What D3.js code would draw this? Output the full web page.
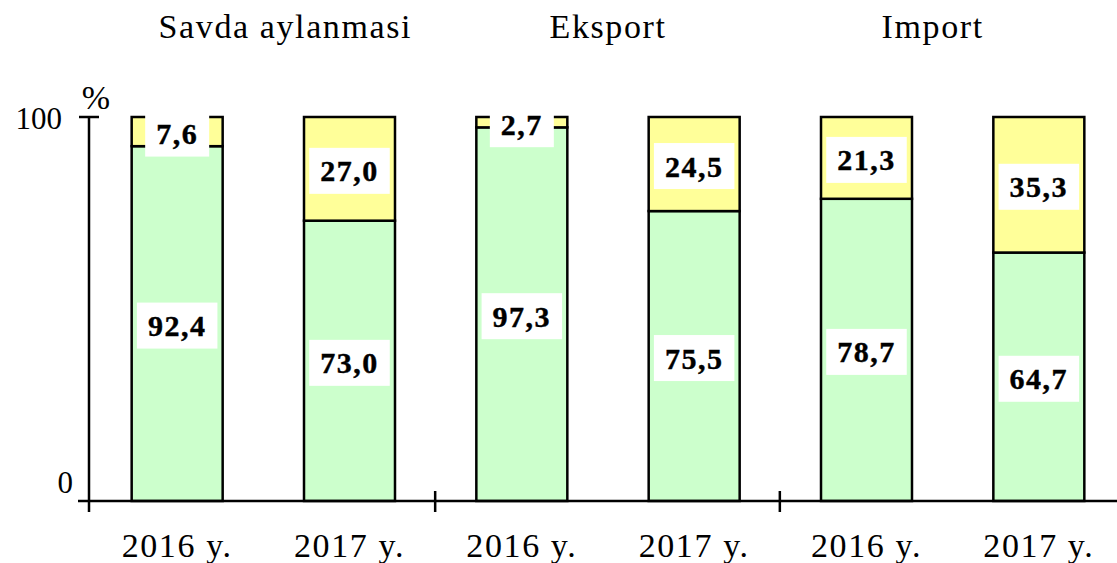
<!DOCTYPE html>
<html lang="uz">
<head>
    <meta charset="UTF-8">
    <title>Savda aylanmasi, eksport va import tarkibi</title>
    <script src="https://d3js.org/d3.v7.min.js"></script>
    <style>
        body {
            margin: 0;
            background: #fff;
        }
        svg text {
            font-family: "Liberation Serif", "Times New Roman", serif;
            fill: #000;
        }
        .title, .cat {
            font-size: 34px;
            letter-spacing: 1.6px;
        }
        .val {
            font-size: 30px;
            font-weight: bold;
            letter-spacing: 1.5px;
            stroke: #000;
            stroke-width: 0.4px;
        }
        .ytick {
            font-size: 31px;
        }
    </style>
</head>
<body>
    <svg width="1117" height="563"></svg>
    <script>
        // data
        var groups = ["Savda aylanmasi", "Eksport", "Import"];
        var years = ["2016 y.", "2017 y."];
        // green part (lower) and yellow part (upper), per group and year
        var lowerVals = [92.4, 73.0, 97.3, 75.5, 78.7, 64.7];
        var upperVals = [7.6, 27.0, 2.7, 24.5, 21.3, 35.3];
        var yTicks = [0, 100];

        var titleDx = [22, 0, -20];

        var svg = d3.select("svg");

        var bars = [];
        groups.forEach(function(g, gi) {
            years.forEach(function(yr, yi) {
                var i = gi * years.length + yi;
                bars.push({ key: i, group: g, year: yr, lo: lowerVals[i], up: upperVals[i] });
            });
        });

        var x = d3.scaleBand()
            .domain(bars.map(function(d) { return d.key; }))
            .range([91, 1125])
            .paddingInner(0.472)
            .paddingOuter(0.236);

        var y = d3.scaleLinear().domain([0, 100]).range([501, 117]);

        var fmt = function(v) { return v.toFixed(1).replace(".", ","); };

        // bars
        var bar = svg.selectAll(".bar")
            .data(bars)
          .enter().append("g")
            .attr("class", "bar");

        bar.append("rect")
            .attr("x", function(d) { return x(d.key); })
            .attr("width", x.bandwidth())
            .attr("y", function(d) { return y(d.lo); })
            .attr("height", function(d) { return y(0) - y(d.lo); })
            .attr("fill", "#ccffcc")
            .attr("stroke", "#000")
            .attr("stroke-width", 2.5);

        bar.append("rect")
            .attr("x", function(d) { return x(d.key); })
            .attr("width", x.bandwidth())
            .attr("y", y(100))
            .attr("height", function(d) { return y(d.lo) - y(100); })
            .attr("fill", "#ffff99")
            .attr("stroke", "#000")
            .attr("stroke-width", 2.5);

        // axes
        var step = x.step();
        var gx = svg.append("g");
        gx.append("line")
            .attr("x1", 78).attr("x2", 1117)
            .attr("y1", y(0)).attr("y2", y(0))
            .attr("stroke", "#000").attr("stroke-width", 2.5);
        // group separator ticks
        [1, 2].forEach(function(k) {
            var xp = x.range()[0] + k * years.length * step - 0.5;
            gx.append("line")
                .attr("x1", xp).attr("x2", xp)
                .attr("y1", y(0) - 10).attr("y2", y(0) + 11)
                .attr("stroke", "#000").attr("stroke-width", 2.5);
        });

        var gy = svg.append("g")
            .attr("transform", "translate(89,0)");
        gy.append("line")
            .attr("x1", 0).attr("x2", 0)
            .attr("y1", y(100)).attr("y2", y(0) + 11)
            .attr("stroke", "#000").attr("stroke-width", 2.5);
        gy.append("line")
            .attr("x1", -10).attr("x2", 10)
            .attr("y1", y(100)).attr("y2", y(100))
            .attr("stroke", "#000").attr("stroke-width", 2.5);

        var yAxis = d3.axisLeft(y).tickValues(yTicks).tickSize(0).tickPadding(0);
        var yg = svg.append("g")
            .attr("transform", "translate(89,0)")
            .call(yAxis);
        yg.select(".domain").remove();
        yg.selectAll("text")
            .attr("class", "ytick")
            .style("font-size", "31px")
            .style("font-family", "'Liberation Serif', serif")
            .attr("dy", "0.32em")
            .attr("x", function(d) { return d === 0 ? -16 : -27; })
            .attr("y", function(d) { return d === 0 ? -18 : 2; });

        svg.append("text")
            .attr("class", "ytick")
            .attr("x", 96)
            .attr("y", 109)
            .attr("text-anchor", "middle")
            .style("font-size", "34px")
            .text("%");

        // category labels
        svg.selectAll(".cat")
            .data(bars)
          .enter().append("text")
            .attr("class", "cat")
            .attr("x", function(d) { return x(d.key) + x.bandwidth() / 2; })
            .attr("y", 557)
            .attr("text-anchor", "middle")
            .text(function(d) { return d.year; });

        // group titles
        svg.selectAll(".title")
            .data(groups)
          .enter().append("text")
            .attr("class", "title")
            .attr("x", function(d, i) {
                return x(i * years.length) + (step + x.bandwidth()) / 2 + titleDx[i];
            })
            .attr("y", 38)
            .attr("text-anchor", "middle")
            .text(function(d) { return d; });

        // value labels with white boxes
        var labels = [];
        bars.forEach(function(d) {
            labels.push({ key: d.key, v: d.lo, cy: (y(0) + y(d.lo)) / 2 + 2 });
            labels.push({ key: d.key, v: d.up, cy: Math.max((y(d.lo) + y(100)) / 2 + 2, y(100) + 6) });
        });

        var lab = svg.selectAll(".lab")
            .data(labels)
          .enter().append("g")
            .attr("class", "lab");

        var box = lab.append("rect").attr("fill", "#fff");
        var txt = lab.append("text")
            .attr("class", "val")
            .attr("x", function(d) { return x(d.key) + x.bandwidth() / 2; })
            .attr("y", function(d) { return d.cy; })
            .attr("dy", "0.35em")
            .attr("text-anchor", "middle")
            .text(function(d) { return fmt(d.v); });

        txt.each(function(d) {
            d.w = this.getComputedTextLength() + 22;
        });
        box
            .attr("x", function(d) { return x(d.key) + x.bandwidth() / 2 - d.w / 2; })
            .attr("width", function(d) { return d.w; })
            .attr("y", function(d) { return d.cy - 23; })
            .attr("height", 46);
    </script>
</body>
</html>
